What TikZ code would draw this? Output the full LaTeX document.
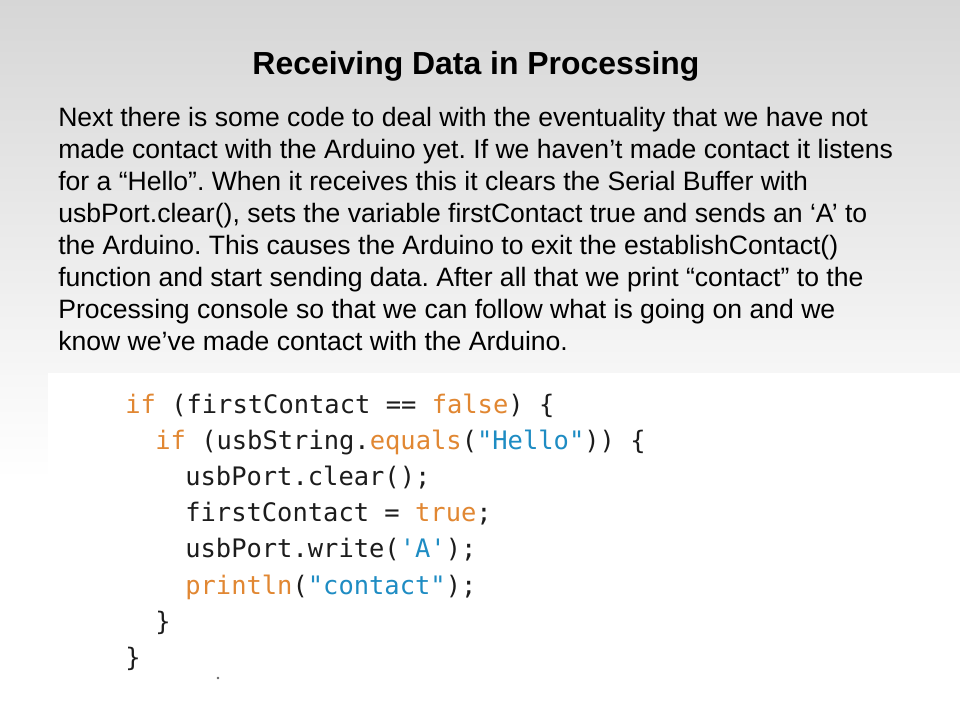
\documentclass[tikz,border=0pt]{standalone}
\usepackage{fontspec}
\setmainfont{Liberation Sans}
\setmonofont{DejaVu Sans Mono}
\frenchspacing

\definecolor{slidetop}{HTML}{D6D6D6}
\definecolor{slidelow}{HTML}{F7F7F7}
\definecolor{keyorange}{RGB}{225,135,50}
\definecolor{strblue}{RGB}{30,140,195}
\definecolor{codeink}{HTML}{1C1C1C}

\begin{document}
\begin{tikzpicture}[x=0.025cm,y=-0.025cm]
    \pgfmathsetmacro{\textleft}{58}
    \pgfmathsetmacro{\textstep}{32}
    \pgfmathsetmacro{\codeleft}{125}
    \pgfmathsetmacro{\codestep}{36}
    \pgfmathsetmacro{\indentwidth}{30}
    \providecommand{\titlefontsize}{\fontsize{22.7pt}{26pt}\selectfont}
    \providecommand{\bodyfontsize}{\fontsize{18.9pt}{22pt}\selectfont}
    \providecommand{\codefontsize}{\fontsize{18.1pt}{22pt}\selectfont}
    \providecommand{\kw}[1]{\textcolor{keyorange}{#1}}
    \providecommand{\str}[1]{\textcolor{strblue}{#1}}
    \tikzset{
        bodyline/.style={anchor=base west,inner sep=0,font=\bodyfontsize},
        codeline/.style={anchor=base west,inner sep=0,font=\codefontsize\ttfamily,text=codeink}
    }
    % slide background and the pasted code picture
    \useasboundingbox (0,0) rectangle (960,720);
    \shade[top color=slidetop,bottom color=slidelow] (0,0) rectangle (960,380);
    \shade[top color=slidelow,bottom color=white] (0,380) rectangle (960,480);
    \fill[white] (0,480) rectangle (960,720);
    \fill[white] (48,373) rectangle (960,720);
    \node[anchor=base,inner sep=0,font=\titlefontsize\bfseries](title) at (476,75) {Receiving Data in Processing};
    \node[bodyline](body1) at (\textleft,127) {Next there is some code to deal with the eventuality that we have not};
    \node[bodyline](body2) at (\textleft,127+\textstep) {made contact with the Arduino yet. If we haven’t made contact it listens};
    \node[bodyline](body3) at (\textleft,127+2*\textstep) {for a “Hello”. When it receives this it clears the Serial Buffer with};
    \node[bodyline](body4) at (\textleft,127+3*\textstep) {usbPort.clear(), sets the variable firstContact true and sends an ‘A’ to};
    \node[bodyline](body5) at (\textleft,127+4*\textstep) {the Arduino. This causes the Arduino to exit the establishContact()};
    \node[bodyline](body6) at (\textleft,127+5*\textstep) {function and start sending data. After all that we print “contact” to the};
    \node[bodyline](body7) at (\textleft,127+6*\textstep) {Processing console so that we can follow what is going on and we};
    \node[bodyline](body8) at (\textleft,127+7*\textstep) {know we’ve made contact with the Arduino.};
    % code lines
    \node[codeline](code1) at (\codeleft,414) {\kw{if} (firstContact == \kw{false}) \{};
    \node[codeline](code2) at (\codeleft+\indentwidth,414+\codestep) {\kw{if} (usbString.\kw{equals}(\str{"Hello"})) \{};
    \node[codeline](code3) at (\codeleft+2*\indentwidth,414+2*\codestep) {usbPort.clear();};
    \node[codeline](code4) at (\codeleft+2*\indentwidth,414+3*\codestep) {firstContact = \kw{true};};
    \node[codeline](code5) at (\codeleft+2*\indentwidth,414+4*\codestep) {usbPort.write(\str{'A'});};
    \node[codeline](code6) at (\codeleft+2*\indentwidth,414+5*\codestep) {\kw{println}(\str{"contact"});};
    \node[codeline](code7) at (\codeleft+\indentwidth,414+6*\codestep) {\}};
    \node[codeline](code8) at (\codeleft,414+7*\codestep) {\}};
    \fill[gray!80!black] (218,678) circle (1.3);
\end{tikzpicture}
\end{document}
